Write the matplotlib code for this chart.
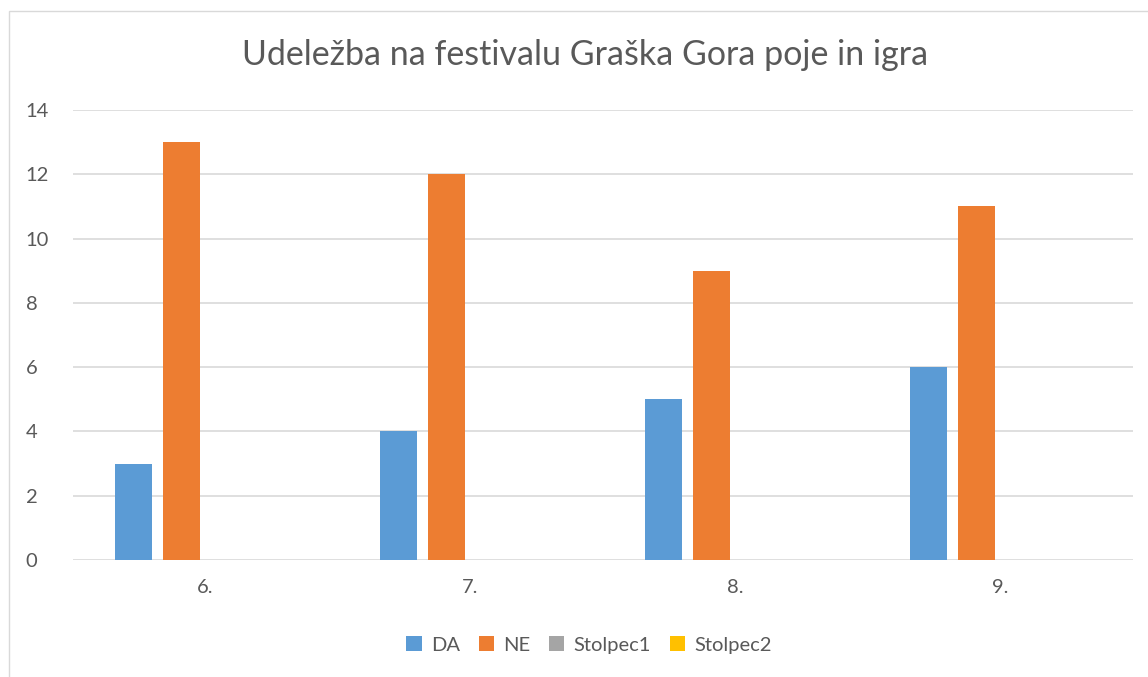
import numpy as np
import matplotlib.pyplot as plt
from matplotlib.patches import Rectangle

plt.rcParams['font.family'] = ['Lato', 'DejaVu Sans']

categories = ["6.", "7.", "8.", "9."]
da = [3, 4, 5, 6]
ne = [13, 12, 9, 11]
stolpec1 = [0, 0, 0, 0]
stolpec2 = [0, 0, 0, 0]
series_names = ["DA", "NE", "Stolpec1", "Stolpec2"]
colors = ["#5B9BD5", "#ED7D31", "#A5A5A5", "#FFC000"]
text_color = "#595959"
grid_color = "#D9D9D9"

fig = plt.figure(figsize=(11.48, 6.77), dpi=100)
W, H = 1148, 677

# chart frame like Excel
fig.patches.append(Rectangle((9 / W, -0.1), 1.2, 1 - 11 / H + 0.1,
                             transform=fig.transFigure, fill=False,
                             edgecolor=grid_color, linewidth=1))

ax = fig.add_axes([73 / W, 1 - 560 / H, 1060 / W, 450 / H])

x = np.arange(len(categories))
width = 0.14
stride = 0.181
for i, (vals, name, col) in enumerate(zip([da, ne, stolpec1, stolpec2], series_names, colors)):
    offset = (i - 1.5) * stride
    ax.bar(x + offset, vals, width, color=col, label=name, zorder=3)

ax.set_xlim(-0.5, len(categories) - 0.5)
ax.set_ylim(0, 14)
ax.set_yticks(np.arange(0, 15, 2))
ax.set_xticks(x)
ax.set_xticklabels(categories)
ax.yaxis.grid(True, color=grid_color, linewidth=1.2, zorder=0)
ax.set_axisbelow(True)
for s in ax.spines.values():
    s.set_visible(False)
ax.tick_params(axis='both', length=0, labelsize=14.5, colors=text_color)
ax.tick_params(axis='y', pad=34)
ax.tick_params(axis='x', pad=14)
for lab in ax.get_yticklabels():
    lab.set_horizontalalignment('left')

fig.text(585 / W, 1 - 55 / H, "Udeležba na festivalu Graška Gora poje in igra",
         ha='center', va='center', fontsize=24.5, color=text_color)

leg = ax.legend(loc='center', bbox_to_anchor=(589 / W, 1 - 645 / H),
                bbox_transform=fig.transFigure, ncol=4, frameon=False,
                fontsize=14.5, handlelength=0.75, handleheight=0.75,
                handletextpad=0.45, columnspacing=0.95)
for t in leg.get_texts():
    t.set_color(text_color)

fig.savefig("out.png", dpi=100)
